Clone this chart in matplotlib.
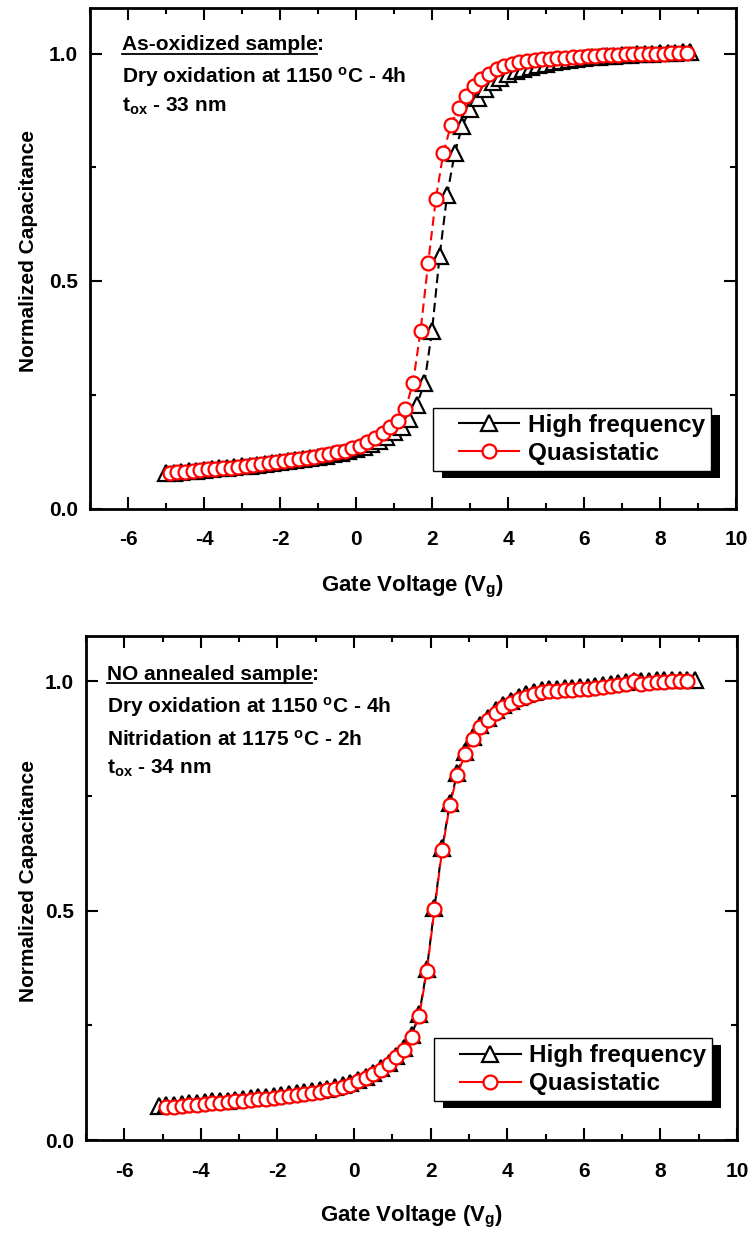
import matplotlib
matplotlib.use("Agg")
import matplotlib.pyplot as plt
from matplotlib.lines import Line2D
from matplotlib.patches import Rectangle
from matplotlib.legend_handler import HandlerLine2D
from matplotlib.transforms import IdentityTransform, offset_copy
from matplotlib.ticker import MultipleLocator

plt.rcParams["font.family"] = ["Liberation Sans", "DejaVu Sans"]
plt.rcParams["font.weight"] = "bold"
plt.rcParams["axes.labelweight"] = "bold"
plt.rcParams["axes.unicode_minus"] = False
plt.rcParams["mathtext.fontset"] = "custom"
plt.rcParams["mathtext.rm"] = "Liberation Sans"
plt.rcParams["mathtext.bf"] = "Liberation Sans:bold"
plt.rcParams["mathtext.it"] = "Liberation Sans:italic"


## DATA

# as-oxidized sample
v_hf_top = [-5.0, -4.8, -4.6, -4.4, -4.2, -4.0, -3.8, -3.6, -3.4, -3.2,
            -3.0, -2.8, -2.6, -2.4, -2.2, -2.0, -1.8, -1.6, -1.4, -1.2,
            -1.0, -0.8, -0.6, -0.4, -0.2, 0.0, 0.2, 0.4, 0.6, 0.8,
            1.0, 1.2, 1.4, 1.6, 1.8, 2.0, 2.2, 2.4, 2.6, 2.8,
            3.0, 3.2, 3.4, 3.6, 3.8, 4.0, 4.2, 4.4, 4.6, 4.8,
            5.0, 5.2, 5.4, 5.6, 5.8, 6.0, 6.2, 6.4, 6.6, 6.8,
            7.0, 7.2, 7.4, 7.6, 7.8, 8.0, 8.2, 8.4, 8.6, 8.8]
c_hf_top = [0.077, 0.079, 0.080, 0.082, 0.083, 0.085, 0.086, 0.088, 0.089, 0.091,
            0.093, 0.094, 0.096, 0.098, 0.100, 0.102, 0.104, 0.106, 0.108, 0.110,
            0.113, 0.116, 0.119, 0.122, 0.126, 0.130, 0.135, 0.141, 0.149, 0.158,
            0.168, 0.180, 0.196, 0.228, 0.275, 0.390, 0.555, 0.690, 0.782, 0.841,
            0.878, 0.903, 0.922, 0.937, 0.947, 0.955, 0.961, 0.966, 0.971, 0.975,
            0.978, 0.981, 0.984, 0.986, 0.988, 0.990, 0.992, 0.993, 0.994, 0.995,
            0.996, 0.997, 0.998, 0.999, 1.000, 1.001, 1.002, 1.002, 1.003, 1.003]
v_qs_top = [-4.9, -4.7, -4.5, -4.3, -4.1, -3.9, -3.7, -3.5, -3.3, -3.1,
            -2.9, -2.7, -2.5, -2.3, -2.1, -1.9, -1.7, -1.5, -1.3, -1.1,
            -0.9, -0.7, -0.5, -0.3, -0.1, 0.1, 0.3, 0.5, 0.7, 0.9,
            1.1, 1.3, 1.5, 1.7, 1.9, 2.1, 2.3, 2.5, 2.7, 2.9,
            3.1, 3.3, 3.5, 3.7, 3.9, 4.1, 4.3, 4.5, 4.7, 4.9,
            5.1, 5.3, 5.5, 5.7, 5.9, 6.1, 6.3, 6.5, 6.7, 6.9,
            7.1, 7.3, 7.5, 7.7, 7.9, 8.1, 8.3, 8.5, 8.7]
c_qs_top = [0.078, 0.080, 0.081, 0.083, 0.084, 0.086, 0.087, 0.089, 0.090, 0.092,
            0.094, 0.096, 0.098, 0.100, 0.102, 0.104, 0.106, 0.109, 0.111, 0.114,
            0.117, 0.120, 0.124, 0.127, 0.132, 0.138, 0.146, 0.156, 0.167, 0.179,
            0.193, 0.218, 0.276, 0.391, 0.540, 0.680, 0.782, 0.843, 0.881, 0.907,
            0.929, 0.944, 0.956, 0.966, 0.972, 0.977, 0.981, 0.984, 0.986, 0.988,
            0.989, 0.990, 0.991, 0.992, 0.993, 0.994, 0.995, 0.996, 0.996, 0.997,
            0.998, 0.998, 0.999, 0.999, 1.000, 1.000, 1.001, 1.001, 1.002]

# NO annealed sample
v_hf_bot = [-5.1, -4.9, -4.7, -4.5, -4.3, -4.1, -3.9, -3.7, -3.5, -3.3,
            -3.1, -2.9, -2.7, -2.5, -2.3, -2.1, -1.9, -1.7, -1.5, -1.3,
            -1.1, -0.9, -0.7, -0.5, -0.3, -0.1, 0.1, 0.3, 0.5, 0.7,
            0.9, 1.1, 1.3, 1.5, 1.7, 1.9, 2.1, 2.3, 2.5, 2.7,
            2.9, 3.1, 3.3, 3.5, 3.7, 3.9, 4.1, 4.3, 4.5, 4.7,
            4.9, 5.1, 5.3, 5.5, 5.7, 5.9, 6.1, 6.3, 6.5, 6.7,
            6.9, 7.1, 7.3, 7.5, 7.7, 7.9, 8.1, 8.3, 8.5, 8.7, 8.9]
c_hf_bot = [0.075, 0.076, 0.077, 0.078, 0.080, 0.081, 0.082, 0.084, 0.085, 0.086,
            0.088, 0.089, 0.091, 0.093, 0.094, 0.096, 0.098, 0.100, 0.102, 0.104,
            0.107, 0.109, 0.112, 0.116, 0.120, 0.125, 0.131, 0.138, 0.146, 0.156,
            0.169, 0.183, 0.200, 0.228, 0.274, 0.372, 0.507, 0.636, 0.734, 0.801,
            0.846, 0.879, 0.904, 0.921, 0.937, 0.949, 0.958, 0.966, 0.972, 0.977,
            0.981, 0.983, 0.984, 0.985, 0.986, 0.987, 0.988, 0.990, 0.992, 0.994,
            0.996, 0.998, 1.001, 1.001, 1.002, 1.003, 1.003, 1.004, 1.004, 1.004, 1.004]
v_qs_bot = v_qs_top
c_qs_bot = [0.072, 0.073, 0.074, 0.076, 0.077, 0.078, 0.080, 0.081, 0.082, 0.084,
            0.085, 0.087, 0.089, 0.090, 0.092, 0.094, 0.096, 0.098, 0.100, 0.103,
            0.105, 0.108, 0.112, 0.116, 0.121, 0.128, 0.135, 0.143, 0.153, 0.166,
            0.180, 0.197, 0.225, 0.270, 0.368, 0.503, 0.632, 0.730, 0.797, 0.842,
            0.875, 0.900, 0.916, 0.932, 0.944, 0.953, 0.961, 0.967, 0.973, 0.977,
            0.979, 0.980, 0.981, 0.982, 0.983, 0.984, 0.986, 0.988, 0.990, 0.992,
            0.994, 1.000, 0.995, 0.997, 0.998, 0.999, 1.000, 1.000, 1.000]

series_labels = ["High frequency", "Quasistatic"]
notes_top = ["As-oxidized sample",
             "Dry oxidation at 1150 $^\\mathrm{o}$C - 4h",
             "t$_\\mathrm{ox}$ - 33 nm"]
notes_bot = ["NO annealed sample",
             "Dry oxidation at 1150 $^\\mathrm{o}$C - 4h",
             "Nitridation at 1175 $^\\mathrm{o}$C - 2h",
             "t$_\\mathrm{ox}$ - 34 nm"]


# legend line starts a little inside the frame (like Origin)
class GapHandler(HandlerLine2D):
    def create_artists(self, legend, orig_handle, xdescent, ydescent,
                       width, height, fontsize, trans):
        pad = 0.8 * fontsize
        return super().create_artists(legend, orig_handle, xdescent - pad, ydescent,
                                      width - pad, height, fontsize, trans)


hf_style = dict(color="black", lw=1.5, marker="^", ms=11.5, mfc="white", mec="black", mew=1.6)
qs_style = dict(color="red", lw=1.5, marker="o", ms=10, mfc="white", mec="red", mew=1.6)

fig = plt.figure(figsize=(7.51, 12.33), dpi=100)
ax1 = fig.add_axes([90 / 751, 1 - 508.5 / 1233, 646 / 751, 500.5 / 1233])
ax2 = fig.add_axes([86 / 751, 1 - 1140 / 1233, 651 / 751, 504.4 / 1233])


def draw_panel(ax, v_hf, c_hf, v_qs, c_qs, leg_anchor, ylab_x, xlab_y):
    ax.plot(v_hf, c_hf, ls=(0, (4.5, 2.5)), **hf_style)
    ax.plot(v_qs, c_qs, ls=(0, (4.5, 2.5)), **qs_style)

    ax.set_xlim(-7, 10)
    ax.set_ylim(0, 1.1)
    ax.xaxis.set_major_locator(MultipleLocator(2))
    ax.xaxis.set_minor_locator(MultipleLocator(1))
    ax.yaxis.set_major_locator(MultipleLocator(0.5))
    ax.yaxis.set_minor_locator(MultipleLocator(0.25))
    ax.tick_params(which="both", direction="in", top=True, right=True, width=1.5, labelsize=15)
    ax.tick_params(which="major", length=8.6)
    ax.tick_params(which="minor", length=4.3)
    ax.tick_params(axis="x", pad=15.5)
    ax.tick_params(axis="y", pad=8.6)
    for s in ax.spines.values():
        s.set_linewidth(2)

    ax.set_xlabel("Gate Voltage (V$_\\mathbf{g}$)", fontsize=16)
    ax.set_ylabel("Normalized Capacitance", fontsize=15)
    ax.xaxis.set_label_coords(0.5, xlab_y)
    ax.yaxis.set_label_coords(ylab_x, 0.514)

    h1 = Line2D([], [], **hf_style)
    h2 = Line2D([], [], **qs_style)
    leg = ax.legend([h1, h2], series_labels, loc="upper left", bbox_to_anchor=leg_anchor,
                    borderaxespad=0, fontsize=17.5, handlelength=3.3, handletextpad=0.35,
                    borderpad=0.25, labelspacing=0.2, fancybox=False, edgecolor="black",
                    framealpha=1, handler_map={Line2D: GapHandler()})
    leg.get_frame().set_linewidth(1.0)
    return leg


leg1 = draw_panel(ax1, v_hf_top, c_hf_top, v_qs_top, c_qs_top, (0.531, 0.201), -0.0805, -0.131)
leg2 = draw_panel(ax2, v_hf_bot, c_hf_bot, v_qs_bot, c_qs_bot, (0.535, 0.2016), -0.0737, -0.126)


# notes in the upper left corner, first line underlined
def add_notes(ax, notes, x, ys):
    renderer = fig.canvas.get_renderer()
    head = ax.text(x, ys[0], notes[0], transform=ax.transAxes, fontsize=15, va="baseline")
    bb = head.get_window_extent(renderer).transformed(ax.transAxes.inverted())
    ax.text(bb.x1, ys[0], ":", transform=ax.transAxes, fontsize=15, va="baseline")
    ax.plot([bb.x0, bb.x1], [ys[0], ys[0]], color="black", lw=1.3, clip_on=False,
            transform=offset_copy(ax.transAxes, fig=fig, y=-3.5, units="dots"))
    for txt, y in zip(notes[1:], ys[1:]):
        ax.text(x, y, txt, transform=ax.transAxes, fontsize=15, va="baseline")


add_notes(ax1, notes_top, 0.049, [0.916, 0.850, 0.793])
add_notes(ax2, notes_bot, 0.032, [0.912, 0.847, 0.781, 0.727])

# black drop shadow behind the legends
fig.canvas.draw()
renderer = fig.canvas.get_renderer()
for ax, leg in [(ax1, leg1), (ax2, leg2)]:
    fb = leg.get_frame().get_window_extent(renderer)
    shadow = Rectangle((fb.x0 + 9, fb.y0 - 7), fb.width, fb.height, transform=IdentityTransform(),
                       facecolor="black", edgecolor="none", zorder=4.9, clip_on=False)
    ax.add_patch(shadow)

fig.savefig("out.png", dpi=100)
